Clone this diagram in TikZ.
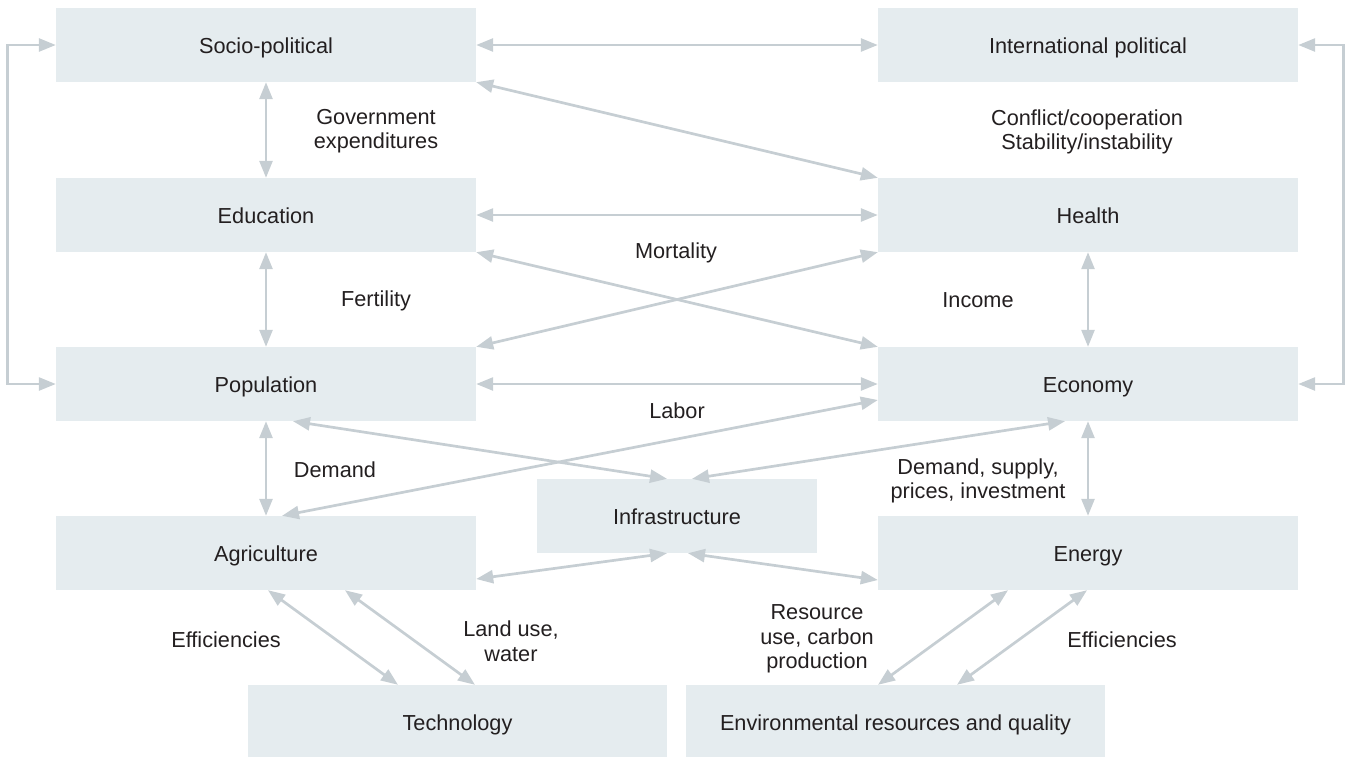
\documentclass[tikz,border=0pt]{standalone}
\usepackage{fontspec}
\setmainfont{Liberation Sans}
\usetikzlibrary{arrows.meta,calc}
\definecolor{boxfill}{HTML}{E5ECEF}
\definecolor{arrowcol}{HTML}{C6CED3}
\definecolor{txt}{HTML}{231F20}
\tikzset{
  bigbox/.style={fill=boxfill, draw=none, minimum width=420pt, minimum height=74pt, inner sep=0pt, text=txt, text height=17pt, text depth=0pt, font=\fontsize{21.7}{24.5}\selectfont},
  infbox/.style={bigbox, minimum width=280pt},
  botbox/.style={bigbox, minimum width=419pt},
  conn/.style={draw=arrowcol, line width=2.7pt, {Triangle[length=17pt,width=13pt]}-{Triangle[length=17pt,width=13pt]}},
  lbl/.style={text=txt, align=center, inner sep=0pt, font=\fontsize{21.7}{24.5}\selectfont}
}
\begin{document}
\begin{tikzpicture}[x=1pt,y=-1pt]
\useasboundingbox (0,0) rectangle (1351,756);
% boxes
\node[bigbox] (soc) at (266,45) {Socio-political};
\node[bigbox] (intl) at (1088,45) {International political};
\node[bigbox] (edu) at (266,215) {Education};
\node[bigbox] (hea) at (1088,215) {Health};
\node[bigbox] (pop) at (266,384) {Population};
\node[bigbox] (eco) at (1088,384) {Economy};
\node[bigbox] (agr) at (266,553) {Agriculture};
\node[bigbox] (ene) at (1088,553) {Energy};
\node[infbox] (inf) at (677,516) {Infrastructure};
\node[botbox] (tec) at (457.5,722) {Technology};
\node[botbox] (env) at (895.5,722) {Environmental resources and quality};
% connectors
\draw[conn] (soc.east) -- (intl.west);
\draw[conn] (soc.south east) -- (hea.north west);
\draw[conn] (edu.east) -- (hea.west);
\draw[conn] (soc.south) -- (edu.north);
\draw[conn] (soc.west) -- ++(-48,0) |- (pop.west);
\draw[conn] (intl.east) -- ++(45,0) |- (eco.east);
\draw[conn] (edu.south) -- (pop.north);
\draw[conn] (edu.south east) -- (eco.north west);
\draw[conn] (pop.north east) -- (hea.south west);
\draw[conn] (pop.east) -- (eco.west);
\draw[conn] (hea.south) -- (eco.north);
\draw[conn] (eco.south) -- (ene.north);
\draw[conn] (pop.south) -- (agr.north);
\draw[conn] ($(pop.south)+(27,0)$) -- ($(inf.north)+(-10,0)$);
\draw[conn] ($(agr.north)+(16,0)$) -- ($(eco.west)+(0,16)$);
\draw[conn] ($(inf.north)+(15,0)$) -- ($(eco.south)+(-23,0)$);
\draw[conn] ($(agr.east)+(0,26)$) -- ($(inf.south)+(-10,0)$);
\draw[conn] ($(inf.south)+(11,0)$) -- ($(ene.west)+(0,27)$);
\draw[conn] ($(agr.south)+(2,0)$) -- ($(tec.north)+(-59.5,0)$);
\draw[conn] ($(agr.south)+(79,0)$) -- ($(tec.north)+(17.5,0)$);
\draw[conn] ($(ene.south)+(-80,0)$) -- ($(env.north)+(-17.5,0)$);
\draw[conn] ($(ene.south)+(-1,0)$) -- ($(env.north)+(61.5,0)$);
% labels
\node[lbl] (lgov) at (376,131) {Government\\expenditures};
\node[lbl] (lconf) at (1087,132) {Conflict/cooperation\\Stability/instability};
\node[lbl] (lmort) at (676,253) {Mortality};
\node[lbl] (lfert) at (376,301) {Fertility};
\node[lbl] (linc) at (978,300) {Income};
\node[lbl] (llab) at (677,411) {Labor};
\node[lbl] (ldem) at (335,470) {Demand};
\node[lbl] (ldsp) at (978,481) {Demand, supply,\\prices, investment};
\node[lbl] (leff1) at (226,640) {Efficiencies};
\node[lbl] (lland) at (511,641) {Land use,\\water};
\node[lbl] (lres) at (817,639) {Resource\\use, carbon\\production};
\node[lbl] (leff2) at (1122,640) {Efficiencies};
\end{tikzpicture}
\end{document}
